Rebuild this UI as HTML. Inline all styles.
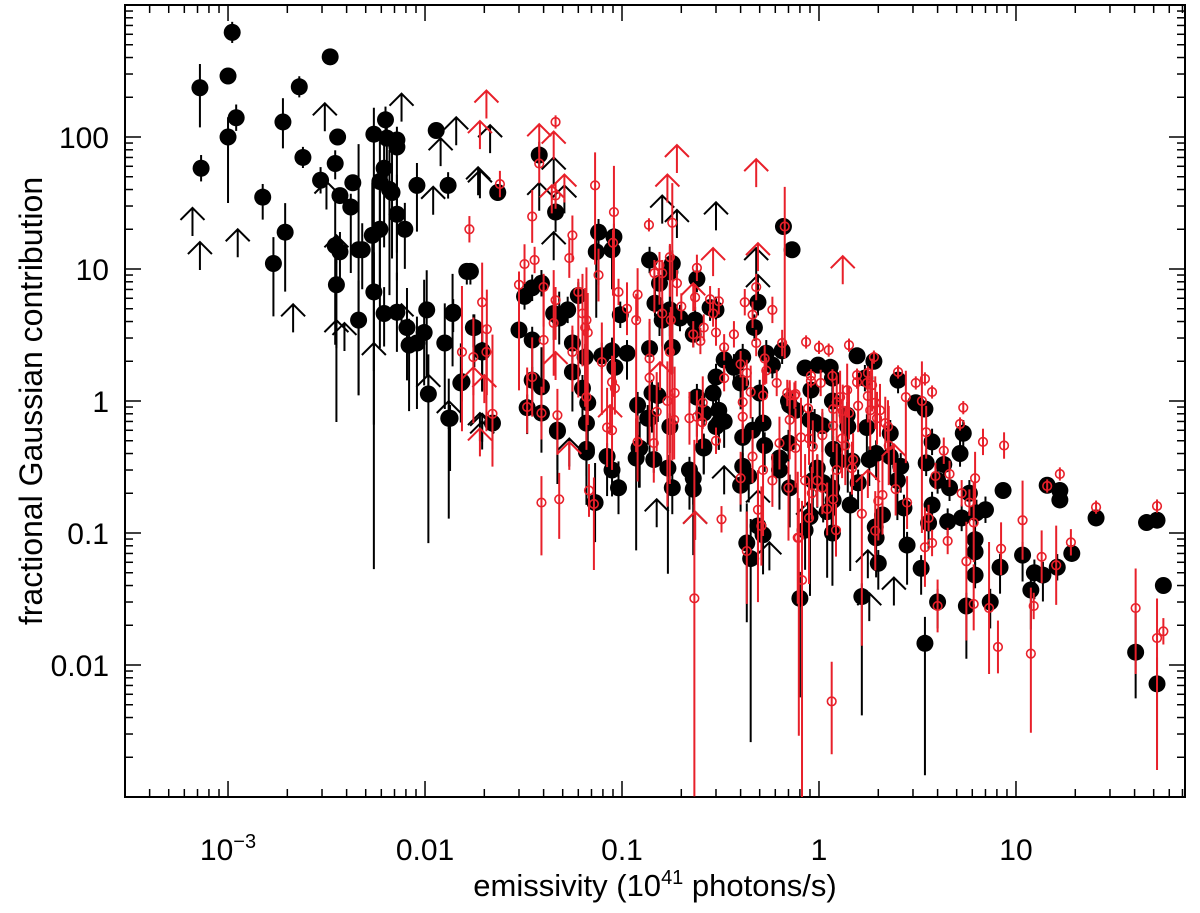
<!DOCTYPE html>
<html><head><meta charset="utf-8"><style>
html,body{margin:0;padding:0;background:#fff;}
svg{display:block;}
text{font-family:"Liberation Sans",Arial,sans-serif;fill:#000;}
</style></head><body>
<svg id="chart" width="1200" height="913" viewBox="0 0 1200 913" xmlns="http://www.w3.org/2000/svg">
<g id="axes"></g>
<g id="black-series"></g>
<g id="red-series"></g>
<text transform="translate(42,401) rotate(-90)" text-anchor="middle" font-size="32">fractional Gaussian contribution</text>
<text x="655" y="896" text-anchor="middle" font-size="31">emissivity (10<tspan font-size="20" dy="-12">41</tspan><tspan dy="12"> photons/s)</tspan></text>
</svg>
<script>
// [emissivity, fraction, errDexLow, errDexHigh]
const blackPoints = [
[1.05e-3,620,0.08,0.08],[7.2e-4,236,0.3,0.18],[1.0e-3,290,0.03,0.03],[1.1e-3,140,0.1,0.1],[1.0e-3,100,0.5,0.15],[7.3e-4,58,0.1,0.1],
[3.3e-3,405,0.06,0.06],[2.3e-3,240,0.08,0.08],[1.9e-3,130,0.2,0.18],[2.4e-3,70,0.08,0.08],[3.6e-3,100,0.05,0.05],[3.5e-3,63,0.12,0.1],
[2.95e-3,47,0.1,0.1],[4.3e-3,45,0.05,0.05],[3.7e-3,36,0.05,0.05],[4.2e-3,29.5,0.5,0.1],[1.5e-3,35,0.17,0.1],[1.95e-3,19,0.45,0.22],
[1.7e-3,11,0.4,0.2],[5.5e-3,105,2.2,0.2],[6.3e-3,135,0.1,0.1],[6.4e-3,98,0.3,0.1],[7.2e-3,95,0.1,0.1],[7.2e-3,84,0.8,0.1],
[6.2e-3,58,0.6,0.2],[5.9e-3,46,0.8,0.3],[6.6e-3,40,0.8,0.3],[6.8e-3,38,0.5,0.3],[7.2e-3,26,0.5,0.3],[7.9e-3,20,0.3,0.2],
[9.1e-3,43,0.35,0.17],[0.0114,112,0.05,0.05],[0.0131,43,0.1,0.1],[5.4e-3,18,0.4,0.4],[5.9e-3,20,0.9,0.5],[3.5e-3,15,0.75,0.4],
[3.7e-3,13.5,0.3,0.15],[4.6e-3,14,1.1,0.8],[4.8e-3,14,0.3,0.2],[3.55e-3,7.6,1.04,0.3],[5.5e-3,6.7,2.1,0.3],[0.0163,9.6,0.1,0.05],
[0.017,9.6,0.1,0.05],[6.2e-3,4.6,0.25,0.2],[7.2e-3,4.7,0.3,0.3],[0.0102,4.9,0.5,0.3],[0.0138,4.6,0.4,0.3],[4.6e-3,4.1,0.57,0.3],
[8.1e-3,3.6,0.4,0.3],[0.0178,3.6,0.3,0.1],[8.3e-3,2.65,0.5,0.2],[9.1e-3,2.75,0.5,0.2],[9.9e-3,3.3,0.4,0.4],[0.0126,2.75,0.5,0.3],
[0.0195,2.35,0.3,0.2],[0.0152,1.37,0.3,0.3],[0.0104,1.13,1.13,0.3],[0.0132,0.74,0.76,0.3],
[0.0234,38,0.05,0.05],[0.038,73,0.1,0.1],[0.046,27,0.15,0.15],[0.076,19,0.4,0.1],[0.074,13.5,0.5,0.1],[0.091,17.5,0.15,0.1],
[0.089,14,0.3,0.1],[0.138,11.7,0.1,0.1],[0.18,11,0.1,0.1],[0.175,9.5,0.6,0.2],[0.155,7.8,0.4,0.1],[0.24,8.4,0.1,0.1],
[0.66,21,0.05,0.05],[0.73,14,0.05,0.05],[0.49,5.6,0.1,0.1],[0.47,3.6,0.1,0.1],[0.0139,4.7,0.15,0.1],[0.0176,3.6,0.15,0.1],
[0.0195,2.4,0.3,0.2],[0.0154,1.4,0.15,0.1],[0.0134,0.74,0.4,0.1],[0.022,0.68,0.2,0.1],[0.030,3.45,0.35,0.1],[0.032,6.2,0.1,0.1],
[0.035,7.2,0.1,0.1],[0.039,7.8,0.1,0.1],[0.035,2.9,0.3,0.1],[0.035,1.44,0.2,0.1],[0.033,0.89,0.2,0.1],[0.039,1.28,0.3,0.3],
[0.045,4.6,0.2,0.1],[0.048,4.25,0.2,0.2],[0.053,4.9,0.1,0.1],[0.06,6.3,0.1,0.1],[0.056,2.75,0.2,0.1],[0.056,1.66,0.3,0.2],
[0.065,2.15,0.3,0.1],[0.063,1.25,0.3,0.1],[0.067,0.97,0.3,0.1],[0.066,0.68,0.4,0.1],[0.066,0.43,0.4,0.3],[0.047,0.6,0.3,0.1],
[0.039,0.81,0.3,0.1],[0.079,2.2,0.1,0.1],[0.089,2.4,0.1,0.1],[0.098,4.5,0.1,0.1],[0.106,2.3,0.2,0.1],[0.092,1.8,0.2,0.1],
[0.12,0.93,0.3,0.1],[0.138,2.5,0.2,0.2],[0.142,1.15,0.3,0.1],[0.152,1.1,0.2,0.1],[0.18,2.55,0.2,0.2],[0.16,4.1,0.2,0.1],
[0.175,4.9,0.2,0.1],[0.197,4.25,0.1,0.1],[0.147,5.5,0.1,0.1],[0.138,0.74,0.3,0.1],[0.123,0.44,0.3,0.2],[0.235,4.1,0.1,0.1],
[0.23,3.2,0.1,0.1],[0.24,1.07,0.3,0.1],[0.26,0.81,0.1,0.1],[0.29,1.15,0.1,0.1],[0.31,0.85,0.3,0.1],[0.31,0.68,0.2,0.1],
[0.26,0.45,0.2,0.1],[0.28,5.1,0.1,0.1],[0.3,4.9,0.1,0.1],[0.3,1.52,0.2,0.1],[0.33,2.05,0.1,0.1],[0.37,1.8,0.1,0.1],
[0.41,2.15,0.1,0.1],[0.4,1.37,0.2,0.1],[0.41,0.53,0.3,0.1],[0.46,0.6,0.2,0.1],[0.5,1.15,0.2,0.1],[0.52,0.68,0.2,0.1],
[0.58,1.87,0.1,0.1],[0.54,2.3,0.1,0.1],[0.65,2.4,0.1,0.1],[0.7,1.0,0.1,0.1],[0.76,0.85,0.1,0.1],
[0.047,0.59,0.4,0.1],[0.066,0.41,0.4,0.2],[0.084,0.38,0.3,0.1],[0.089,0.3,0.2,0.1],[0.096,0.22,0.2,0.2],[0.073,0.17,0.3,0.3],
[0.122,0.44,0.3,0.1],[0.118,0.37,0.7,0.3],[0.145,0.36,0.1,0.1],[0.171,0.31,0.8,0.1],[0.18,0.22,0.2,0.1],[0.135,0.74,0.2,0.1],
[0.175,0.64,0.2,0.1],[0.26,0.44,0.2,0.1],[0.22,0.3,0.3,0.1],[0.23,0.26,0.2,0.1],[0.23,0.215,0.5,0.1],[0.3,0.64,0.2,0.1],
[0.33,0.7,0.2,0.1],[0.41,0.32,0.2,0.1],[0.4,0.23,0.2,0.1],[0.44,0.27,0.2,0.1],[0.63,0.37,0.3,0.1],[0.63,0.3,0.3,0.1],
[0.49,0.113,0.3,0.1],[0.52,0.097,0.3,0.1],[0.43,0.084,0.6,0.3],[0.45,0.064,1.39,0.3],[0.53,0.46,0.2,0.1],[0.7,0.48,0.2,0.1],
[1.56,2.2,0.05,0.05],[1.9,2.0,0.05,0.05],[0.85,1.78,0.05,0.05],[0.99,1.87,0.05,0.05],[1.14,1.8,0.05,0.05],[0.91,1.21,0.1,0.1],
[1.17,1.49,0.1,0.1],[1.71,1.49,0.1,0.1],[2.52,1.44,0.1,0.1],[3.1,0.97,0.05,0.05],[3.45,0.87,0.05,0.05],[0.71,0.93,0.2,0.1],
[0.9,0.72,0.2,0.1],[0.95,0.69,0.2,0.1],[1.04,0.65,0.2,0.1],[1.17,1.0,0.3,0.1],[1.39,0.78,0.3,0.1],[1.4,0.64,0.5,0.1],
[1.75,0.63,0.3,0.1],[2.3,0.57,0.2,0.1],[3.75,0.49,0.1,0.1],[5.4,0.57,0.1,0.1],[5.2,0.4,0.1,0.1],[4.3,0.33,0.1,0.1],
[3.5,0.34,0.1,0.1],[2.6,0.32,0.2,0.1],[2.3,0.38,0.2,0.1],[1.95,0.4,0.2,0.1],[1.8,0.36,0.2,0.1],[1.18,0.43,0.3,0.1],
[1.25,0.35,0.3,0.1],[1.47,0.35,0.3,0.1],[0.98,0.31,0.3,0.1],[1.05,0.24,0.3,0.1],[0.71,0.22,0.3,0.1],[0.93,0.25,0.3,0.1],
[1.16,0.22,0.4,0.1],[1.58,0.24,0.2,0.1],[2.5,0.25,0.3,0.1],[4.0,0.25,0.1,0.1],[4.6,0.22,0.1,0.1],[5.8,0.2,0.1,0.1],
[8.6,0.21,0.05,0.05],[3.75,0.163,0.2,0.1],[2.7,0.155,0.3,0.1],[2.1,0.137,0.2,0.1],[1.44,0.163,0.5,0.1],[1.18,0.177,0.3,0.1],
[1.1,0.145,0.5,0.1],[0.9,0.133,0.6,0.1],[1.93,0.111,0.2,0.1],[3.6,0.119,0.2,0.1],[4.5,0.122,0.1,0.1],[5.3,0.13,0.1,0.1],
[6.3,0.142,0.1,0.1],[7.0,0.15,0.1,0.1],[14.4,0.23,0.05,0.05],[16.7,0.21,0.05,0.05],[16.7,0.178,0.05,0.05],[25.5,0.13,0.05,0.05],
[46,0.12,0.05,0.05],[52,0.125,0.05,0.05],[0.85,0.105,0.3,0.1],[1.17,0.1,0.4,0.1],[1.95,0.092,0.3,0.1],[2.8,0.081,0.3,0.1],
[6.2,0.089,0.1,0.1],[6.2,0.072,0.1,0.1],[6.2,0.048,0.1,0.1],[10.8,0.068,0.2,0.1],[8.3,0.055,0.2,0.1],[12.4,0.05,0.2,0.1],
[13.7,0.048,0.2,0.1],[19.2,0.07,0.05,0.05],[16.2,0.055,0.1,0.1],[2.0,0.059,0.2,0.1],[1.65,0.033,0.9,0.1],[3.3,0.054,0.2,0.1],
[3.45,0.0146,1.0,0.2],[4.0,0.03,0.2,0.1],[5.6,0.028,0.4,0.1],[7.4,0.03,0.2,0.1],[11.9,0.037,0.3,0.1],[40.5,0.0125,0.35,0.3],
[52,0.0072,0.5,0.2],[56,0.04,0.05,0.05],[0.8,0.032,0.75,0.2]
];
const redPoints = [
[0.046,130,0.05,0.05],[0.038,63,0.15,0.15],[0.046,36,0.1,0.1],[0.035,25,0.2,0.2],[0.024,44,0.1,0.1],[0.0168,20,0.1,0.1],
[0.073,43,0.6,0.25],[0.091,27,1.4,0.35],[0.09,15.8,0.4,0.1],[0.056,18,0.2,0.15],[0.054,12.1,0.15,0.15],[0.036,11.7,0.1,0.1],
[0.032,10.9,0.15,0.15],[0.03,7.6,0.8,0.1],[0.04,7.3,0.3,0.1],[0.046,5.8,0.3,0.1],[0.06,6.7,0.8,0.1],[0.076,9.0,0.2,0.2],
[0.096,6.7,0.1,0.1],[0.106,5.0,0.2,0.2],[0.12,6.4,0.2,0.2],[0.118,4.1,1.0,0.2],[0.137,21.6,0.05,0.05],[0.18,22.4,1.8,0.3],
[0.175,12.3,0.3,0.1],[0.155,10.7,0.3,0.1],[0.146,9.3,0.3,0.1],[0.16,9.3,0.3,0.1],[0.19,7.8,0.1,0.1],[0.24,10.2,0.1,0.1],
[0.235,6.1,0.1,0.1],[0.2,5.2,0.1,0.1],[0.177,4.1,0.4,0.1],[0.16,4.6,0.4,0.1],[0.28,5.9,0.1,0.1],[0.31,5.7,0.1,0.1],
[0.29,4.6,0.1,0.1],[0.26,3.6,0.1,0.1],[0.25,2.85,0.1,0.1],[0.23,3.2,0.1,0.1],[0.3,3.3,0.1,0.1],[0.37,3.2,0.1,0.1],
[0.42,5.6,0.1,0.1],[0.46,4.5,0.1,0.1],[0.48,7.3,0.1,0.1],[0.58,4.9,0.1,0.1],[0.67,21,1.0,0.3],[0.48,2.75,0.1,0.1],
[0.65,2.75,0.1,0.1],[0.53,2.1,0.2,0.1],[0.54,1.7,0.1,0.1],[0.4,1.9,0.1,0.1],[0.43,1.63,0.1,0.1],[0.45,1.17,0.2,0.2],
[0.41,0.98,0.2,0.2],[0.41,0.76,0.2,0.2],[0.52,1.1,0.2,0.2],[0.61,1.37,0.1,0.1],[0.69,1.15,0.1,0.1],[0.75,1.1,0.1,0.1],
[0.33,1.49,0.1,0.1],[0.33,2.55,0.1,0.1],
[0.0154,2.35,0.6,0.5],[0.0176,2.15,0.5,0.3],[0.0195,5.6,0.3,0.3],[0.0206,3.5,0.5,0.3],[0.0205,2.35,0.6,0.2],[0.022,0.8,0.4,0.6],
[0.033,0.9,0.2,0.3],[0.035,1.52,0.3,0.3],[0.039,0.81,0.2,0.2],[0.04,2.9,0.4,0.4],[0.045,3.9,0.4,0.4],[0.056,2.35,0.3,0.2],
[0.047,0.78,0.3,0.2],[0.063,4.6,0.4,0.3],[0.066,4.1,0.8,0.4],[0.065,3.6,0.6,0.3],[0.067,3.3,0.7,0.3],[0.066,1.07,0.4,0.3],
[0.079,1.97,0.4,0.3],[0.089,1.39,0.2,0.2],[0.092,1.25,0.2,0.2],[0.084,0.63,0.3,0.3],[0.089,0.6,0.3,0.3],[0.12,0.49,0.3,0.2],
[0.138,2.1,0.5,0.3],[0.138,1.5,0.5,0.3],[0.15,0.83,0.3,0.3],[0.145,0.48,0.3,0.2],[0.17,1.0,0.8,0.3],[0.184,0.72,0.3,0.2],
[0.185,1.15,0.3,0.2],[0.175,2.35,1.0,0.3],[0.22,0.74,0.2,0.2],[0.24,0.76,0.2,0.2],[0.255,0.69,0.2,0.2],[0.257,0.97,0.2,0.2],
[0.3,0.5,0.1,0.1],
[0.039,0.17,0.4,0.2],[0.048,0.18,0.3,0.2],[0.068,0.21,0.2,0.2],[0.072,0.166,0.5,0.2],[0.233,0.032,1.5,1.2],[0.32,0.127,0.1,0.1],
[0.43,0.073,0.4,0.3],[0.49,0.15,0.7,0.3],[0.51,0.113,0.3,0.3],[0.4,0.26,0.2,0.2],[0.78,0.092,0.5,0.5],[0.7,0.22,0.4,0.2],
[0.58,0.25,0.2,0.2],[0.52,0.3,0.5,0.2],[0.63,0.48,0.2,0.2],[0.46,0.38,0.2,0.2],
[0.82,0.044,2.0,0.6],[1.16,0.0053,0.4,0.3],[4,0.028,0.2,0.2],[3.45,0.078,0.3,0.3],[5.6,0.061,0.6,0.3],[6.1,0.029,0.2,0.3],
[7.3,0.027,0.5,0.5],[8.1,0.0137,0.2,0.2],[8.4,0.076,0.2,0.2],[11.9,0.0122,0.6,0.5],[12.3,0.028,0.1,0.1],[13.5,0.066,0.2,0.2],
[16,0.057,0.3,0.3],[40.5,0.027,0.5,0.3],[52,0.016,1.0,0.3],[56,0.018,0.1,0.1],
[0.86,2.8,0.05,0.05],[1.0,2.55,0.05,0.05],[1.12,2.43,0.05,0.05],[1.42,2.65,0.05,0.05],[1.9,2.15,0.05,0.05],[2.52,1.66,0.05,0.05],
[3.1,1.37,0.05,0.05],[3.45,1.47,0.05,0.05],[3.75,1.17,0.05,0.05],[2.76,1.07,0.5,0.2],[3.33,1.0,1.0,0.3],[5.4,0.89,0.05,0.05],
[5.2,0.67,0.05,0.05],[6.8,0.49,0.1,0.1],[8.7,0.46,0.1,0.1],[4.3,0.42,0.1,0.1],[3.5,0.58,0.2,0.2],[3.9,0.27,0.1,0.1],
[4.6,0.28,0.1,0.1],[6.2,0.26,0.2,0.2],[5.3,0.2,0.1,0.1],[5.8,0.17,0.1,0.1],[6.1,0.12,0.3,0.3],[10.8,0.125,0.3,0.3],
[14.4,0.227,0.05,0.05],[16.7,0.28,0.05,0.05],[25.5,0.157,0.05,0.05],[52,0.16,0.05,0.05],[19,0.085,0.1,0.1],[4.5,0.087,0.1,0.1],
[3.75,0.084,0.1,0.1],[3.6,0.13,0.1,0.1],[2.8,0.17,0.2,0.2],[2.45,0.215,0.2,0.2],[2.1,0.194,0.3,0.3],[2.0,0.175,0.3,0.3],
[1.93,0.104,0.3,0.3],[1.65,0.14,1.0,0.3],[1.22,0.105,0.2,0.2],[1.1,0.152,0.2,0.2],[1.18,0.18,0.2,0.2],[0.98,0.25,0.2,0.2],
[1.04,0.22,0.2,0.2],[0.85,0.25,0.2,0.2],[0.92,0.2,0.2,0.2],[0.89,0.13,0.5,0.3],[0.79,0.092,1.5,0.3],[1.23,0.3,0.2,0.2],
[1.49,0.36,0.2,0.2],[1.47,0.31,0.2,0.2],[0.76,0.44,0.3,0.3],[0.81,0.53,0.3,0.3],[0.89,0.52,0.2,0.2],[0.93,0.45,0.2,0.2],
[1.04,0.55,0.2,0.2],[1.18,0.65,0.2,0.2],[1.31,0.52,0.3,0.3],[1.36,0.46,0.3,0.3],[1.58,0.92,0.2,0.2],[1.42,0.81,0.2,0.2],
[1.18,0.87,0.2,0.2],[1.32,0.84,0.3,0.2],[1.23,0.98,0.3,0.2],[1.28,1.07,0.2,0.2],[1.39,1.21,0.2,0.2],[1.56,1.57,0.05,0.05],
[1.56,1.39,0.05,0.05],[1.77,1.63,0.05,0.05],[1.75,1.37,0.05,0.05],[1.86,1.32,0.2,0.2],[1.77,1.09,0.2,0.2],[1.93,0.97,0.2,0.2],
[1.82,0.85,0.3,0.3],[2.04,0.85,0.2,0.2],[1.97,0.74,0.2,0.2],[2.17,0.68,0.2,0.2],[2.24,0.64,0.2,0.2],[2.26,0.46,0.3,0.3],
[0.91,1.55,0.05,0.05],[0.91,1.42,0.05,0.05],[1.02,1.37,0.1,0.1],[1.17,1.55,0.05,0.05],[0.71,0.72,0.3,0.3],[0.71,1.1,0.1,0.1],
[0.76,1.13,0.1,0.1],[0.88,0.88,0.3,0.2]
];
// lower limits: [emissivity, fraction]
const blackLimits = [
[6.6e-4,29],[7.2e-4,16],[1.12e-3,20],[2.14e-3,5.4],[3.1e-3,180],[7.6e-3,213],[0.012,98],[0.0144,141],[0.011,42],[0.0186,59],
[3.16e-3,46],[3.55e-3,18],[3.55e-3,4.1],[3.9e-3,3.9],[5.5e-3,2.75],[7.6e-3,5.4],[0.0104,1.58],[0.0132,1.0],[0.0195,0.8],
[0.0214,123],[0.019,56],[0.038,45],[0.051,43],[0.045,19],[0.16,36],[0.19,28],[0.3,32],[0.48,14.4],[0.49,9],[0.045,70],
[0.019,0.81],[0.054,0.52],[0.15,0.18],[0.33,0.32],[0.235,0.145],[0.49,0.21],[0.56,0.085],[0.88,0.17],[1.77,0.074],
[2.4,0.046],[1.8,0.035],[0.0195,0.7]
];
const redLimits = [
[0.0205,225],[0.019,132],[0.038,125],[0.045,110],[0.051,52],[0.044,43],[0.19,87],[0.17,52],[0.48,68],[0.29,14.4],
[0.49,15.7],[0.23,7.8],[0.0176,1.8],[0.02,1.57],[0.019,0.62],[0.046,2.35],[0.087,0.93],[0.156,1.97],[0.054,0.49],
[0.235,0.145],[1.77,0.3],[2.4,0.47],[1.32,12.5]
];
const xTickValues = [0.001,0.01,0.1,1,10];
const xTickLabels = ["10^-3","0.01","0.1","1","10"];
const yTickValues = [100,10,1,0.1,0.01];
const yTickLabels = ["100","10","1","0.1","0.01"];

const NS="http://www.w3.org/2000/svg";
const L=125,R=1185,T=5,B=797;
const XMIN=-3.523,XMAX=1.858,YMIN=-3.0,YMAX=3.0;
function sx(v){return L+(Math.log10(v)-XMIN)/(XMAX-XMIN)*(R-L);}
function syl(lg){return B-(lg-YMIN)/(YMAX-YMIN)*(B-T);}
function sy(v){return syl(Math.log10(v));}
function mk(tag,attrs,parent){const e=document.createElementNS(NS,tag);for(const k in attrs)e.setAttribute(k,attrs[k]);parent.appendChild(e);return e;}
function clampY(y){return Math.max(T,Math.min(B,y));}

const axes=document.getElementById('axes');
const frame=mk('rect',{x:L,y:T,width:R-L,height:B-T,fill:'none',stroke:'#000','stroke-width':2},axes);


for(let d=-4;d<=2;d++){for(let m=1;m<=9;m++){const v=m*Math.pow(10,d);const lg=Math.log10(v);if(lg<XMIN||lg>XMAX)continue;const x=L+(lg-XMIN)/(XMAX-XMIN)*(R-L);const len=m===1?16:8;
const t1=mk('line',{x1:x,x2:x,y1:B,y2:B-len,stroke:'#000','stroke-width':1.5},axes);


const t2=mk('line',{x1:x,x2:x,y1:T,y2:T+len,stroke:'#000','stroke-width':1.5},axes);

}}
for(let d=-4;d<=3;d++){for(let m=1;m<=9;m++){const v=m*Math.pow(10,d);const lg=Math.log10(v);if(lg<YMIN||lg>YMAX)continue;const y=syl(lg);const len=m===1?16:8;
const t1=mk('line',{x1:L,x2:L+len,y1:y,y2:y,stroke:'#000','stroke-width':1.5},axes);


const t2=mk('line',{x1:R,x2:R-len,y1:y,y2:y,stroke:'#000','stroke-width':1.5},axes);

}}
xTickValues.forEach((v,i)=>{const t=mk('text',{x:sx(v),y:860,'text-anchor':'middle','font-size':30},axes);


const lab=xTickLabels[i];if(lab.indexOf('^')>=0){const p=lab.split('^');t.textContent=p[0];const s=mk('tspan',{'font-size':20,dy:-12},t);s.textContent=p[1].replace('-','\u2212');}else t.textContent=lab;});
yTickValues.forEach((v,i)=>{const t=mk('text',{x:109,y:sy(v)+11,'text-anchor':'end','font-size':30},axes);


t.textContent=yTickLabels[i];});

function drawSeries(points,limits,g,color,filled,name){
points.forEach(p=>{const x=sx(p[0]),lg=Math.log10(p[1]);const y=syl(lg);
const e=mk('line',{x1:x,x2:x,y1:clampY(syl(lg-p[2])),y2:clampY(syl(lg+p[3])),stroke:color,'stroke-width':2},g);


let c;
if(filled){c=mk('circle',{cx:x,cy:y,r:8.5,fill:color},g);}
else{c=mk('circle',{cx:x,cy:y,r:4.3,fill:'none',stroke:color,'stroke-width':1.6},g);}

});
limits.forEach(p=>{const x=sx(p[0]),y=sy(p[1]);
const a=mk('path',{d:`M${x},${y+28}L${x},${y}M${x-12},${y+12}L${x},${y}L${x+12},${y+12}`,fill:'none',stroke:color,'stroke-width':2},g);

});
}
drawSeries(blackPoints,blackLimits,document.getElementById('black-series'),'#000',true,'black');
drawSeries(redPoints,redLimits,document.getElementById('red-series'),'#e8202a',false,'red');
</script>
</body></html>
